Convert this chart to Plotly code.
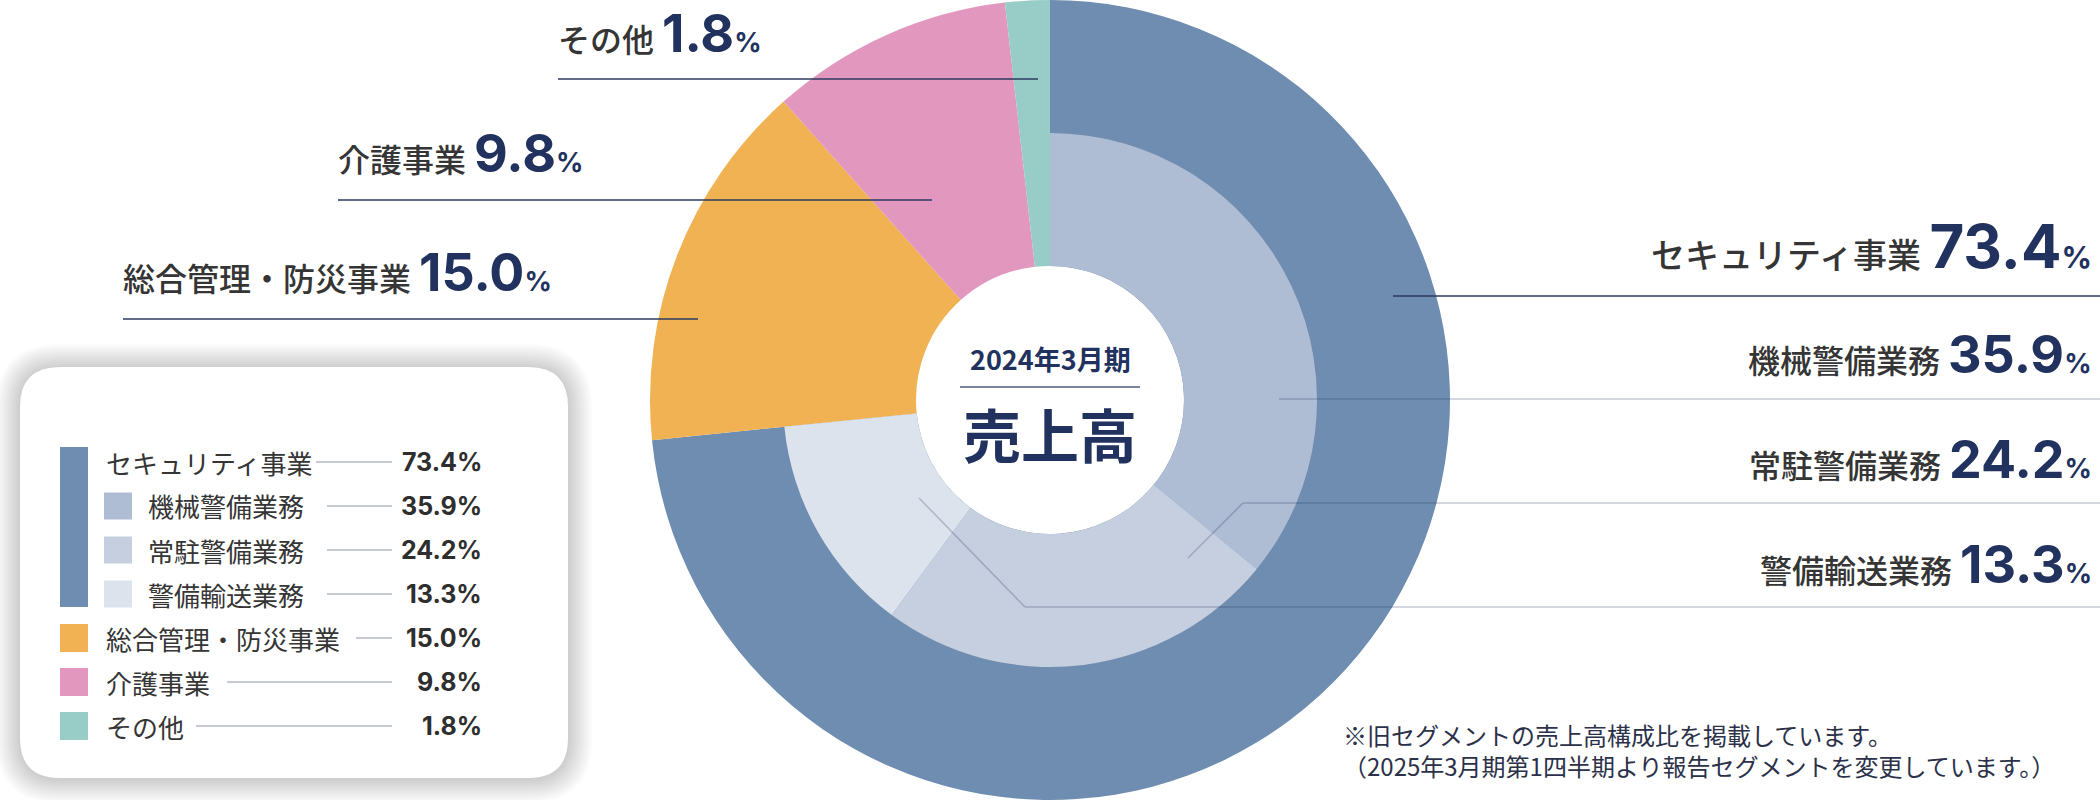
import plotly.graph_objects as go

# ---------------- data ----------------
segments = ["セキュリティ事業", "総合管理・防災事業", "介護事業", "その他"]
segment_values = [73.4, 15.0, 9.8, 1.8]
segment_colors = ["#6e8db0", "#f0b252", "#e197be", "#97cdc6"]

security_subs = ["機械警備業務", "常駐警備業務", "警備輸送業務"]
security_sub_values = [35.9, 24.2, 13.3]
security_sub_colors = ["#aebdd4", "#c5cfdf", "#dce3ec"]

center_period = "2024年3月期"
center_title = "売上高"
footnote_lines = ["※旧セグメントの売上高構成比を掲載しています。",
                  "（2025年3月期第1四半期より報告セグメントを変更しています。）"]

# ---------------- layout constants ----------------
W, H = 2100, 800
CX, CY = 1050, 400
R_OUT, R_MID, R_HOLE = 400, 267, 134

NAVY = "#22325e"
TEXT = "#353535"
JP = "Noto Sans CJK JP"
NUM = "Inter"


def px(x):
    return x / W


def py(y):
    return 1 - y / H


fig = go.Figure()

# outer ring (segments)
fig.add_trace(go.Pie(
    values=segment_values, labels=segments, sort=False, direction="clockwise",
    rotation=0, hole=R_HOLE / R_OUT,
    marker=dict(colors=segment_colors, line=dict(width=0)),
    textinfo="none", hoverinfo="label+value", showlegend=False,
    domain=dict(x=[px(CX - R_OUT), px(CX + R_OUT)], y=[py(CY + R_OUT), py(CY - R_OUT)]),
))

# inner ring (security sub-segments), the rest transparent
rest = sum(segment_values) - sum(security_sub_values)
fig.add_trace(go.Pie(
    values=security_sub_values + [rest], labels=security_subs + [" "], sort=False,
    direction="clockwise", rotation=0, hole=R_HOLE / R_MID,
    marker=dict(colors=security_sub_colors + ["rgba(0,0,0,0)"], line=dict(width=0)),
    textinfo="none", hoverinfo="skip", showlegend=False,
    domain=dict(x=[px(CX - R_MID), px(CX + R_MID)], y=[py(CY + R_MID), py(CY - R_MID)]),
))

shapes = []
annotations = []


def hline(x0, x1, y, color, width=1.5):
    shapes.append(dict(type="line", xref="paper", yref="paper",
                       x0=px(x0), x1=px(x1), y0=py(y), y1=py(y),
                       line=dict(color=color, width=width)))


def seg(x0, y0, x1, y1, color, width=1.5):
    shapes.append(dict(type="line", xref="paper", yref="paper",
                       x0=px(x0), x1=px(x1), y0=py(y0), y1=py(y1),
                       line=dict(color=color, width=width)))


def rrect_path(x0, y0, x1, y1, r):
    pts = [
        f"M{px(x0 + r)},{py(y0)}", f"L{px(x1 - r)},{py(y0)}",
        f"Q{px(x1)},{py(y0)} {px(x1)},{py(y0 + r)}", f"L{px(x1)},{py(y1 - r)}",
        f"Q{px(x1)},{py(y1)} {px(x1 - r)},{py(y1)}", f"L{px(x0 + r)},{py(y1)}",
        f"Q{px(x0)},{py(y1)} {px(x0)},{py(y1 - r)}", f"L{px(x0)},{py(y0 + r)}",
        f"Q{px(x0)},{py(y0)} {px(x0 + r)},{py(y0)}", "Z",
    ]
    return " ".join(pts)


def label_text(name, value, lab_size, num_size, pct_size):
    return (f"<span style='font-family:{JP};font-weight:500;font-size:{lab_size}px;color:{TEXT}'>{name}</span>"
            f"<span style='font-family:{JP};font-size:{lab_size // 2}px'>\u2002</span>"
            f"<span style='font-family:{NUM};font-weight:700;font-size:{num_size}px;color:{NAVY}'>{value:.1f}</span>"
            f"<span style='font-family:{NUM};font-weight:700;font-size:{pct_size}px;color:{NAVY}'>%</span>")


# ---------- right-hand labels (security + subs) ----------
right_names = [segments[0]] + security_subs
right_values = [segment_values[0]] + security_sub_values
right_line_y = [296, 399, 503, 607]
right_line_x0 = [1393, 1279, 1243, 1025]
right_diag = [None, None, (1188, 558), (919, 498)]
right_text_y = [246, 354, 459, 564]
right_sizes = [(34, 60, 30), (32, 52, 27), (32, 52, 27), (32, 52, 27)]
right_line_col = ["#2d3a5e", "rgba(40,50,95,0.26)", "rgba(40,50,95,0.26)", "rgba(40,50,95,0.26)"]

for i in range(4):
    hline(right_line_x0[i], W, right_line_y[i], right_line_col[i])
    if right_diag[i] is not None:
        dx, dy = right_diag[i]
        seg(dx, dy, right_line_x0[i], right_line_y[i], right_line_col[i])
    ls, ns, ps = right_sizes[i]
    annotations.append(dict(xref="paper", yref="paper", x=px(2094), y=py(right_text_y[i]),
                            xanchor="right", yanchor="middle", showarrow=False,
                            text=label_text(right_names[i], right_values[i], ls, ns, ps),
                            font=dict(family=JP, size=ls, color=TEXT)))

# ---------- left-hand labels ----------
left_idx = [3, 2, 1]
left_line_y = [79, 200, 319]
left_line_x = [(558, 1038), (338, 932), (123, 698)]
left_text_y = [33, 153, 272]
for k, i in enumerate(left_idx):
    x0, x1 = left_line_x[k]
    hline(x0, x1, left_line_y[k], "#2d3a5e")
    annotations.append(dict(xref="paper", yref="paper", x=px(x0 - 2), y=py(left_text_y[k]),
                            xanchor="left", yanchor="middle", showarrow=False,
                            text=label_text(segments[i], segment_values[i], 32, 52, 27),
                            font=dict(family=JP, size=32, color=TEXT)))

# ---------- centre ----------
annotations.append(dict(xref="paper", yref="paper", x=px(CX), y=py(358), xanchor="center",
                        yanchor="middle", showarrow=False, text=f"<b>{center_period}</b>",
                        font=dict(family=JP, size=27, color=NAVY)))
hline(960, 1140, 387, "#4d5b80", 1.5)
annotations.append(dict(xref="paper", yref="paper", x=px(CX), y=py(433), xanchor="center",
                        yanchor="middle", showarrow=False, text=f"<b>{center_title}</b>",
                        font=dict(family=JP, size=58, color=NAVY)))

# ---------- footnote ----------
annotations.append(dict(xref="paper", yref="paper", x=px(1341), y=py(750), xanchor="left",
                        yanchor="middle", align="left", showarrow=False,
                        text="<br>".join(footnote_lines),
                        font=dict(family=JP, size=24, color="#2b3149")))

# ---------- legend box ----------
BX0, BY0, BX1, BY1, BR = 20, 367, 568, 778, 40
for s in range(12, 0, -1):
    d = s * 2.0
    shapes.append(dict(type="path", xref="paper", yref="paper",
                       path=rrect_path(BX0 - d, BY0 - d + 1, BX1 + d, BY1 + d + 1, BR + d),
                       fillcolor="rgba(0,0,0,0.016)", line=dict(width=0)))
shapes.append(dict(type="path", xref="paper", yref="paper",
                   path=rrect_path(BX0, BY0, BX1, BY1, BR),
                   fillcolor="white", line=dict(width=0)))

leg_names = [segments[0]] + security_subs + segments[1:]
leg_values = [segment_values[0]] + security_sub_values + segment_values[1:]
leg_level = [0, 1, 1, 1, 0, 0, 0]
leg_colors = [segment_colors[0]] + security_sub_colors + segment_colors[1:]
leg_y = [462, 506, 550, 594, 638, 682, 726]
leg_line_x0 = [316, 327, 327, 327, 356, 227, 196]
LEG_LINE_X1 = 392
LEG_VAL_X = 484


def rect(x0, y0, x1, y1, color):
    shapes.append(dict(type="rect", xref="paper", yref="paper",
                       x0=px(x0), x1=px(x1), y0=py(y1), y1=py(y0),
                       fillcolor=color, line=dict(width=0)))


# big bar for security group
rect(60, 447, 88, 607, leg_colors[0])
for j in range(7):
    y = leg_y[j]
    if j == 0:
        tx = 104
    elif leg_level[j] == 1:
        rect(104, y - 13.5, 132, y + 13.5, leg_colors[j])
        tx = 146
    else:
        rect(60, y - 14, 88, y + 14, leg_colors[j])
        tx = 104
    annotations.append(dict(xref="paper", yref="paper", x=px(tx), y=py(y), xanchor="left",
                            yanchor="middle", showarrow=False, text=leg_names[j],
                            font=dict(family=JP, size=26, color=TEXT)))
    hline(leg_line_x0[j], LEG_LINE_X1, y, "#8c95aa", 1.2)
    annotations.append(dict(xref="paper", yref="paper", x=px(LEG_VAL_X), y=py(y), xanchor="right",
                            yanchor="middle", showarrow=False, text=f"<b>{leg_values[j]:.1f}%</b>",
                            font=dict(family=NUM, size=25, color="#2e2e2e")))

fig.update_layout(
    width=W, height=H, autosize=False,
    margin=dict(l=0, r=0, t=0, b=0, pad=0),
    paper_bgcolor="white", plot_bgcolor="white",
    shapes=shapes, annotations=annotations, showlegend=False,
)

fig.write_html("out.html", config={"displayModeBar": False},
               post_script="document.body.style.margin='0';")
